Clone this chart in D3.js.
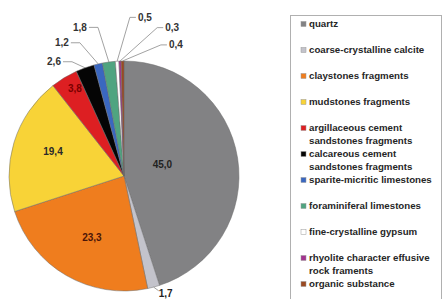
<!DOCTYPE html>
<html>
<head>
<meta charset="utf-8">
<script src="https://cdn.jsdelivr.net/npm/d3@7"></script>
<style>
  body { margin: 0; background: #fff; }
  svg { display: block; }
</style>
</head>
<body>
<div id="chart"></div>
<script>
// data, in slice order (clockwise from 12 o'clock)
var categories = ["quartz", "coarse-crystalline calcite", "claystones fragments", "mudstones fragments",
                  "argillaceous cement sandstones fragments", "calcareous cement sandstones fragments",
                  "sparite-micritic limestones", "foraminiferal limestones", "fine-crystalline gypsum",
                  "rhyolite character effusive rock framents", "organic substance"];
var values = [45.0, 1.7, 23.3, 19.4, 3.8, 2.6, 1.2, 1.8, 0.5, 0.3, 0.4];
var valueLabels = ["45,0", "1,7", "23,3", "19,4", "3,8", "2,6", "1,2", "1,8", "0,5", "0,3", "0,4"];
// legend lines (two-line entries wrap like the original)
var legendLines = [["quartz"], ["coarse-crystalline calcite"], ["claystones fragments"], ["mudstones fragments"],
                   ["argillaceous cement", "sandstones fragments"], ["calcareous cement", "sandstones fragments"],
                   ["sparite-micritic limestones"], ["foraminiferal limestones"], ["fine-crystalline gypsum"],
                   ["rhyolite character effusive", "rock framents"], ["organic substance"]];

var colors = ["#828284", "#c3c3cb", "#ef7d1e", "#f8d337", "#dd1f22", "#050505",
              "#3a67c0", "#4fa480", "#ffffff", "#a2338f", "#9a4a22"];

// label placement: [angle in degrees from top, distance from centre]
var labelSpots = [[74, 40], [160.5, 125], [207.7, 69], [288.7, 75], [330.6, 100], [328.5, 134],
                  [335, 147], [343.5, 155], [7.5, 160], [18, 156], [21.6, 141]];
var labelColors = ["#222", "#222", "#4b1508", "#2a2a2a", "#7a0000", "#333", "#333", "#333", "#333", "#333", "#333"];

var width = 443, height = 299;
var cx = 124, cy = 176, r = 115;

var svg = d3.select("#chart").append("svg").attr("width", width).attr("height", height);

var pie = d3.pie().sort(null).value(function(d) { return d; });
var arcs = pie(values);
var arc = d3.arc().innerRadius(0).outerRadius(r);

var g = svg.append("g").attr("transform", "translate(" + cx + "," + cy + ")");

g.selectAll("path.slice")
  .data(arcs)
  .enter()
  .append("path")
  .attr("class", "slice")
  .attr("d", arc)
  .attr("fill", function(d, i) { return colors[i]; })
  .attr("stroke", "#6a6a6a")
  .attr("stroke-width", 0.5);

function polar(a, dist) {
  var rad = a * Math.PI / 180;
  return [Math.sin(rad) * dist, -Math.cos(rad) * dist];
}

// leader lines for labels that sit outside the pie
var lineGen = d3.line();
arcs.forEach(function(d, i) {
  var spot = labelSpots[i];
  if (spot[1] <= r) return;
  var mid = (d.startAngle + d.endAngle) / 2 * 180 / Math.PI;
  var edge = polar(mid, r);
  var p = polar(spot[0], spot[1]);
  var half = 9;
  var pts;
  if (i === 1) {
    pts = [edge, [p[0] - 7, p[1] - 3]];
  } else if (p[0] < 0) {
    pts = [[p[0] + half, p[1]], [p[0] + half + 9, p[1]], edge];
  } else {
    pts = [[p[0] - half, p[1]], [p[0] - half - 6, p[1]], edge];
  }
  g.append("path")
    .attr("d", lineGen(pts))
    .attr("fill", "none")
    .attr("stroke", "#8a8a8a")
    .attr("stroke-width", 0.8);
});

g.selectAll("text.val")
  .data(arcs)
  .enter()
  .append("text")
  .attr("class", "val")
  .attr("x", function(d, i) { return polar(labelSpots[i][0], labelSpots[i][1])[0]; })
  .attr("y", function(d, i) { return polar(labelSpots[i][0], labelSpots[i][1])[1]; })
  .attr("dy", "0.35em")
  .attr("text-anchor", "middle")
  .attr("font-family", "'Liberation Sans', Arial, sans-serif")
  .attr("font-weight", "bold")
  .attr("font-size", 10)
  .attr("fill", function(d, i) { return labelColors[i]; })
  .text(function(d, i) { return valueLabels[i]; });

// legend
svg.append("rect")
  .attr("x", 290.5).attr("y", 15.5)
  .attr("width", 151).attr("height", 300)
  .attr("fill", "#fff")
  .attr("stroke", "#b0b0b0")
  .attr("stroke-width", 1);

var ly = d3.scaleBand().domain(d3.range(categories.length)).range([11, 297]);

var items = svg.selectAll("g.leg")
  .data(categories)
  .enter()
  .append("g")
  .attr("class", "leg")
  .attr("transform", function(d, i) { return "translate(301," + (ly(i) + 13) + ")"; });

items.append("rect")
  .attr("x", 0).attr("y", -2.5)
  .attr("width", 5).attr("height", 5)
  .attr("fill", function(d, i) { return colors[i]; })
  .attr("stroke", "#999")
  .attr("stroke-width", 0.5);

items.each(function(d, i) {
  var t = d3.select(this).append("text")
    .attr("x", 8)
    .attr("y", 0)
    .attr("font-family", "'Liberation Sans', Arial, sans-serif")
    .attr("font-weight", "bold")
    .attr("font-size", 9.7)
    .attr("fill", "#262626");
  legendLines[i].forEach(function(line, k) {
    t.append("tspan")
      .attr("x", 8)
      .attr("y", k * 12.5)
      .attr("dy", "0.35em")
      .text(line);
  });
});
</script>
</body>
</html>
